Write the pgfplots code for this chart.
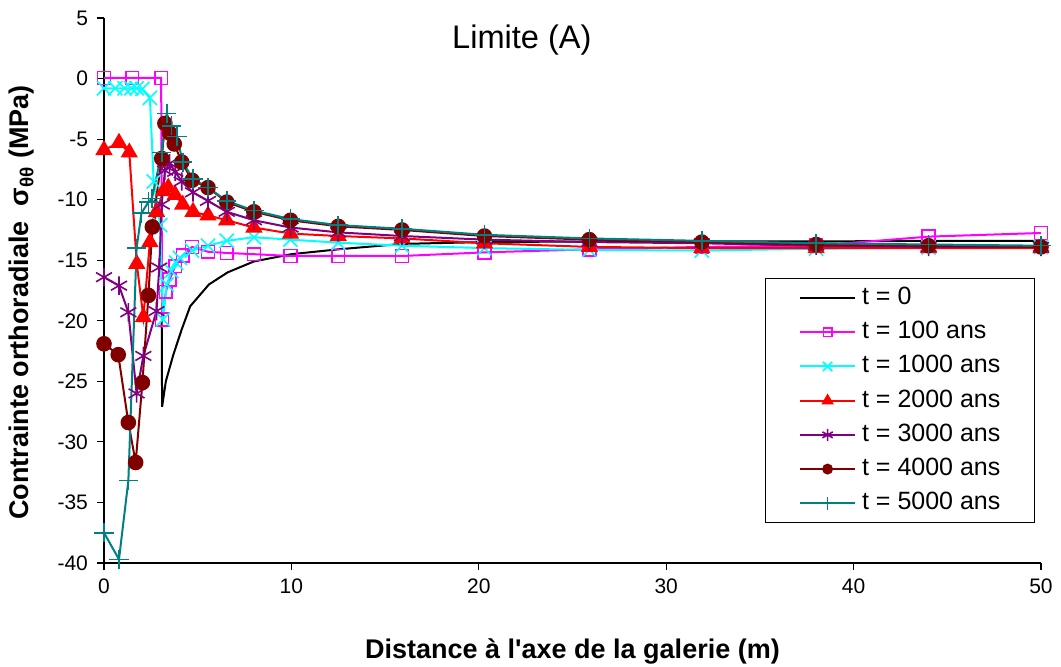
\documentclass[border=0pt]{standalone}
\usepackage{pgfplots}
\pgfplotsset{compat=1.18}
\usepackage{fontspec}
\setmainfont{Liberation Sans}
\definecolor{cmag}{RGB}{255,0,255}
\definecolor{ccyan}{RGB}{0,255,255}
\definecolor{cred}{RGB}{255,0,0}
\definecolor{cpurple}{RGB}{128,0,128}
\definecolor{cdred}{RGB}{128,0,0}
\definecolor{cteal}{RGB}{0,128,128}
\begin{document}
\begin{tikzpicture}
\begin{axis}[
  scale only axis, width=468.5pt, height=272.5pt,
  xmin=0, xmax=50, ymin=-40, ymax=5,
  axis x line*=bottom, axis y line*=left,
  hide obscured x ticks=false, hide obscured y ticks=false,
  xtick={0,10,...,50}, ytick={-40,-35,...,5},
  tick align=outside, major tick length=3.5pt,
  tick style={black, line width=0.6pt},
  axis line style={black, line width=0.8pt, -},
  ticklabel style={font=\fontsize{10.5}{12}\selectfont},
  /pgf/number format/assume math mode=true,
  xticklabel style={yshift=-1pt},
  yticklabel style={xshift=-1pt},
  xlabel={Distance à l\textquotesingle axe de la galerie (m)},
  xlabel style={font=\bfseries\fontsize{13.5}{16}\selectfont, at={(axis description cs:0.5,0)}, anchor=center, yshift=-44pt},
  ylabel={Contrainte orthoradiale\ \ σ\textsubscript{θθ} (MPa)},
  ylabel style={font=\bfseries\fontsize{13.5}{16}\selectfont, at={(axis description cs:0,0.478)}, anchor=center, yshift=41pt},
  clip=false,
  legend style={at={(rel axis cs:0.9936,0.523)}, anchor=north east, draw=black, line width=0.6pt, fill=white,
    font=\fontsize{12.5}{15}\selectfont, inner xsep=17pt, inner ysep=4pt, row sep=5.6pt, column sep=3pt,
    nodes={inner sep=0pt, text height=9pt, text depth=2.5pt}},
  legend cell align=left,
  legend image code/.code={\draw[mark repeat=2,mark phase=2, every mark/.append style={scale=0.65}] plot coordinates {(0pt,0pt) (13.75pt,0pt) (27.5pt,0pt)};},
  every axis plot/.append style={line width=1pt},
]
% t = 0
\addplot[black, no markers] coordinates {
(3.08,-20.0) (3.10,-27.1) (3.30,-25.0) (3.70,-22.8) (4.15,-20.7) (4.60,-18.8) (5.60,-17.0) (6.60,-16.0) (8.0,-15.1) (10.0,-14.5) (12.5,-14.1) (15.9,-13.65) (20.3,-13.5) (25.9,-13.45) (31.9,-13.45) (38,-13.45) (44,-13.4) (50,-13.4)};
\addlegendentry{t = 0}
% t = 100
\addplot[cmag, mark=square, mark size=3.2pt, mark options={solid, line width=0.8pt}] coordinates {
(0,0.05) (1.5,0.05) (3.05,0.05) (3.1,-19.9) (3.3,-17.6) (3.5,-16.6) (3.8,-15.5) (4.2,-14.6) (4.7,-13.9) (5.55,-14.3) (6.55,-14.4) (8.0,-14.5) (9.95,-14.65) (12.5,-14.65) (15.9,-14.65) (20.3,-14.35) (25.9,-14.1) (31.9,-13.9) (38,-13.8) (44,-13.05) (50,-12.75)};
\addlegendentry{t = 100 ans}
% t = 1000
\addplot[ccyan, mark=x, mark size=5pt, mark options={solid, line width=0.8pt}] coordinates {
(0,-0.8) (0.6,-0.8) (1.1,-0.8) (1.45,-0.8) (1.75,-0.8) (2.05,-0.85) (2.45,-1.6) (2.65,-8.5) (3.0,-12.1) (3.15,-19.9) (3.35,-17.0) (3.6,-15.9) (3.85,-15.2) (4.05,-14.8) (4.7,-14.2) (5.55,-13.8) (6.55,-13.4) (8.0,-13.1) (9.95,-13.3) (12.5,-13.55) (15.9,-13.8) (20.3,-14.0) (25.9,-14.15) (31.9,-14.2) (38,-14.05) (44,-13.95) (50,-13.9)};
\addlegendentry{t = 1000 ans}
% t = 2000
\addplot[cred, mark=triangle*, mark size=4pt, mark options={solid}] coordinates {
(0,-5.9) (0.8,-5.3) (1.35,-6.1) (1.75,-15.3) (2.1,-19.7) (2.45,-13.5) (2.8,-11.0) (3.17,-9.3) (3.43,-9.0) (3.8,-9.6) (4.2,-10.4) (4.75,-11.0) (5.55,-11.3) (6.55,-11.7) (8.0,-12.3) (9.95,-12.8) (12.5,-13.0) (15.9,-13.2) (20.3,-13.6) (25.9,-13.9) (31.9,-14.0) (38,-14.0) (44,-14.0) (50,-14.0)};
\addlegendentry{t = 2000 ans}
% t = 3000
\addplot[cpurple, mark=asterisk, mark size=4.6pt, mark options={solid, line width=0.8pt}] coordinates {
(0,-16.4) (0.8,-17.1) (1.3,-19.3) (1.74,-26.0) (2.1,-22.9) (2.8,-19.2) (2.95,-15.6) (3.08,-10.4) (3.25,-7.6) (3.5,-7.0) (3.8,-7.7) (4.15,-8.5) (4.75,-9.4) (5.55,-10.1) (6.55,-11.0) (8.0,-11.7) (9.95,-12.3) (12.5,-12.7) (15.9,-13.0) (20.3,-13.3) (25.9,-13.5) (31.9,-13.6) (38,-13.8) (44,-13.9) (50,-13.9)};
\addlegendentry{t = 3000 ans}
% t = 4000
\addplot[cdred, mark=*, mark size=3.4pt, mark options={solid}] coordinates {
(0,-21.9) (0.76,-22.8) (1.3,-28.4) (1.69,-31.7) (2.05,-25.1) (2.37,-17.9) (2.58,-12.25) (3.08,-6.6) (3.25,-3.7) (3.5,-4.5) (3.75,-5.4) (4.15,-6.9) (4.7,-8.4) (5.55,-9.0) (6.55,-10.2) (8.0,-11.0) (9.95,-11.7) (12.5,-12.2) (15.9,-12.5) (20.3,-13.0) (25.9,-13.3) (31.9,-13.5) (38,-13.7) (44,-13.8) (50,-13.9)};
\addlegendentry{t = 4000 ans}
% t = 5000
\addplot[cteal, mark=+, mark size=4.8pt, mark options={solid, line width=0.8pt}] coordinates {
(0,-37.5) (0.8,-39.7) (1.3,-33.2) (1.74,-14.0) (2.0,-11.1) (2.37,-10.2) (2.56,-9.9) (3.08,-6.1) (3.35,-2.9) (3.6,-3.9) (3.9,-4.8) (4.2,-6.9) (4.75,-8.3) (5.55,-9.0) (6.55,-10.1) (8.0,-10.9) (9.95,-11.6) (12.5,-12.1) (15.9,-12.4) (20.3,-12.9) (25.9,-13.2) (31.9,-13.4) (38,-13.6) (44,-13.7) (50,-13.8)};
\addlegendentry{t = 5000 ans}
\node[font=\fontsize{16.3}{19}\selectfont] at (axis cs:22.3,3.2) {Limite (A)};
\end{axis}
\pgfresetboundingbox
\path[use as bounding box] (-52pt,-51.5pt) rectangle (478.5pt,281.5pt);
\end{tikzpicture}
\end{document}
